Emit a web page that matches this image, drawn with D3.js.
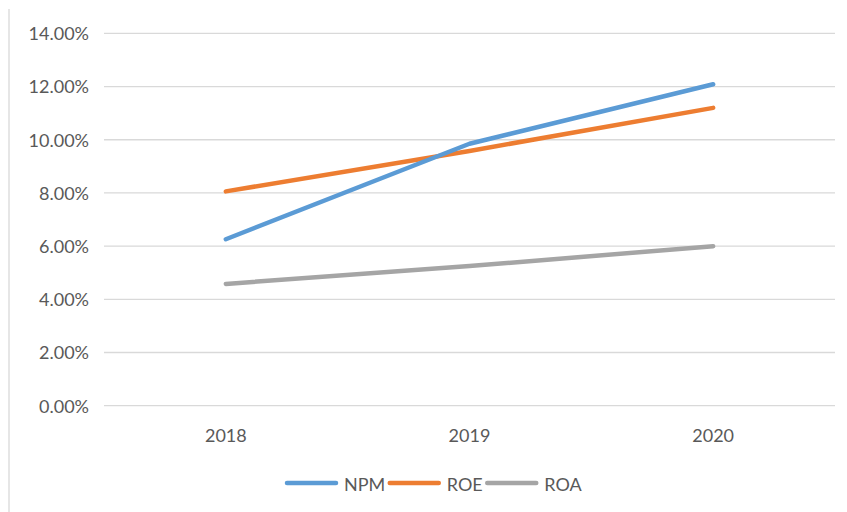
<!DOCTYPE html>
<html>
<head>
<meta charset="utf-8">
<script src="https://cdn.jsdelivr.net/npm/d3@7"></script>
<style>
    body { margin: 0; background: #fff; }
    svg text { font-family: Lato, "Open Sans", sans-serif; fill: #595959; }
</style>
</head>
<body>
<div id="chart"></div>
<script>
// chart data
var years = ["2018", "2019", "2020"];
var npm = [0.0626, 0.0985, 0.1209];
var roe = [0.0806, 0.0958, 0.1120];
var roa = [0.0458, 0.0525, 0.0600];
var yTicks = [0, 0.02, 0.04, 0.06, 0.08, 0.10, 0.12, 0.14];

var seriesNames = ["NPM", "ROE", "ROA"];
var seriesColors = ["#5B9BD5", "#ED7D31", "#A5A5A5"];

$ready();

function $ready() {
    var width = 847, height = 512;
    var series = [
        { name: seriesNames[0], values: npm, color: seriesColors[0] },
        { name: seriesNames[1], values: roe, color: seriesColors[1] },
        { name: seriesNames[2], values: roa, color: seriesColors[2] }
    ];

    var svg = d3.select("#chart").append("svg")
        .attr("width", width)
        .attr("height", height);

    // left edge of the chart frame
    svg.append("line")
        .attr("x1", 9).attr("x2", 9)
        .attr("y1", 9).attr("y2", height)
        .attr("stroke", "#d9d9d9")
        .attr("stroke-width", 1.3);

    var x = d3.scaleBand().domain(years).range([104, 835]);
    var y = d3.scaleLinear().domain([0, 0.14]).range([405.7, 33.4]);

    // grid lines
    svg.append("g").selectAll("line")
        .data(yTicks)
        .enter().append("line")
        .attr("x1", 104).attr("x2", 835)
        .attr("y1", function (d) { return y(d); })
        .attr("y2", function (d) { return y(d); })
        .attr("stroke", "#d9d9d9")
        .attr("stroke-width", 1.3);

    // y labels
    svg.append("g").selectAll("text")
        .data(yTicks)
        .enter().append("text")
        .attr("x", 89)
        .attr("y", function (d) { return y(d) + 6.8; })
        .attr("text-anchor", "end")
        .style("font-size", "18px")
        .text(function (d) { return (d * 100).toFixed(2) + "%"; });

    // x labels
    svg.append("g").selectAll("text")
        .data(years)
        .enter().append("text")
        .attr("x", function (d) { return x(d) + x.bandwidth() / 2; })
        .attr("y", 441.5)
        .attr("text-anchor", "middle")
        .style("font-size", "18px")
        .text(function (d) { return d; });

    var line = d3.line()
        .x(function (d, i) { return x(years[i]) + x.bandwidth() / 2; })
        .y(function (d) { return y(d); });

    // draw ROA first so NPM / ROE sit on top
    series.slice().reverse().forEach(function (s) {
        svg.append("path")
            .datum(s.values)
            .attr("d", line)
            .attr("fill", "none")
            .attr("stroke", s.color)
            .attr("stroke-width", 4.5)
            .attr("stroke-linecap", "round")
            .attr("stroke-linejoin", "round");
    });

    // legend
    var lx = 287;
    var legend = svg.append("g");
    series.forEach(function (s) {
        legend.append("line")
            .attr("x1", lx).attr("x2", lx + 49)
            .attr("y1", 483).attr("y2", 483)
            .attr("stroke", s.color)
            .attr("stroke-width", 4.5)
            .attr("stroke-linecap", "round");
        var t = legend.append("text")
            .attr("x", lx + 57)
            .attr("y", 490.5)
            .style("font-size", "18px")
            .text(s.name);
        lx = lx + 57 + t.node().getComputedTextLength() + 4.5;
    });
}
</script>
</body>
</html>
